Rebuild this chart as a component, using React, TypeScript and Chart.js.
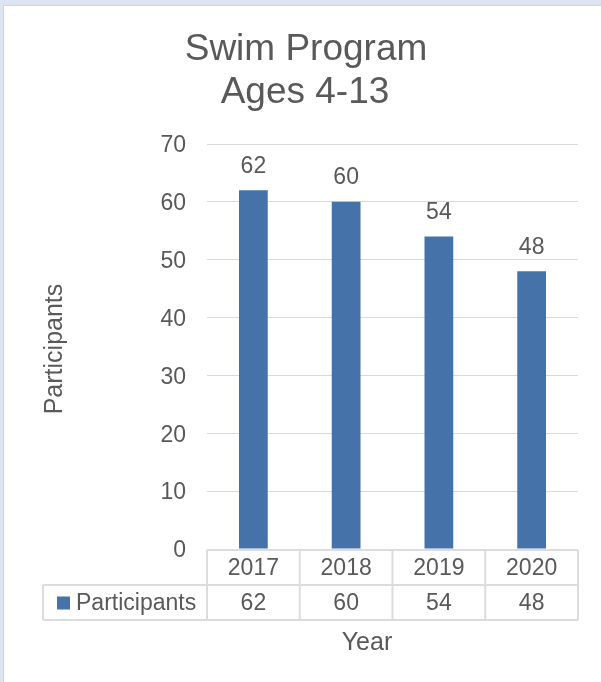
import React, { useEffect, useRef } from "react";
import { Chart, registerables } from "chart.js";

Chart.register(...registerables);

const categories = ["2017", "2018", "2019", "2020"];
const participants = [62, 60, 54, 48];
const seriesName = "Participants";
const titleLines = ["Swim Program", "Ages 4-13"];
const yAxisTitle = "Participants";
const xAxisTitle = "Year";
const yMin = 0;
const yMax = 70;
const yStep = 10;

const FONT = "'Liberation Sans', Arial, Helvetica, sans-serif";
const TEXT = "#595959";
const BAR = "#4573A9";
const GRID = "#d9d9d9";

const W = 601;
const H = 682;

const decorPlugin = {
  id: "decor",
  beforeDraw(chart: any) {
    const ctx = chart.ctx;
    ctx.save();
    ctx.fillStyle = "#dbe4f0";
    ctx.fillRect(0, 0, W, H);
    ctx.fillStyle = "#d4d4d4";
    ctx.fillRect(3, 5, W, H);
    ctx.fillStyle = "#ffffff";
    ctx.fillRect(4, 6, W, H);
    ctx.restore();
  },
  afterDraw(chart: any) {
    const ctx = chart.ctx;
    const area = chart.chartArea;
    const xs = chart.scales.x;
    const ys = chart.scales.y;
    ctx.save();
    ctx.fillStyle = TEXT;

    // Title
    ctx.font = `37px ${FONT}`;
    ctx.textAlign = "center";
    ctx.textBaseline = "alphabetic";
    ctx.fillText(titleLines[0], 306, 60);
    ctx.fillText(titleLines[1], 305, 103);

    // Y tick labels
    ctx.font = `23px ${FONT}`;
    ctx.textAlign = "right";
    ctx.textBaseline = "middle";
    ys.ticks.forEach((t: any) => {
      ctx.fillText(String(t.value), area.left - 21, ys.getPixelForValue(t.value) + 2);
    });

    // Data labels
    ctx.textAlign = "center";
    const meta = chart.getDatasetMeta(0);
    meta.data.forEach((bar: any, i: number) => {
      ctx.fillText(String(participants[i]), bar.x, bar.y - 24);
    });

    // Data table
    const n = categories.length;
    const bounds: number[] = [area.left];
    for (let i = 0; i < n - 1; i++) {
      bounds.push((xs.getPixelForValue(i) + xs.getPixelForValue(i + 1)) / 2);
    }
    bounds.push(area.right);
    const r0 = area.bottom + 1;
    const r1 = r0 + 35;
    const r2 = r1 + 35;
    const legL = 43;
    ctx.strokeStyle = "#dcdcdc";
    ctx.lineWidth = 2;
    ctx.beginPath();
    ctx.moveTo(area.left, r0);
    ctx.lineTo(area.right, r0);
    ctx.moveTo(legL, r1);
    ctx.lineTo(area.right, r1);
    ctx.moveTo(legL, r2);
    ctx.lineTo(area.right, r2);
    bounds.forEach((b) => {
      ctx.moveTo(b, r0);
      ctx.lineTo(b, r2);
    });
    ctx.moveTo(legL, r1);
    ctx.lineTo(legL, r2);
    ctx.stroke();

    ctx.fillStyle = TEXT;
    ctx.font = `23px ${FONT}`;
    ctx.textAlign = "center";
    ctx.textBaseline = "middle";
    for (let i = 0; i < n; i++) {
      const cx = xs.getPixelForValue(i);
      ctx.fillText(categories[i], cx, (r0 + r1) / 2 + 1);
      ctx.fillText(String(participants[i]), cx, (r1 + r2) / 2 + 1);
    }
    // legend key
    ctx.fillStyle = BAR;
    ctx.fillRect(57, (r1 + r2) / 2 - 6, 13, 13);
    ctx.fillStyle = TEXT;
    ctx.textAlign = "left";
    ctx.fillText(seriesName, 76, (r1 + r2) / 2 + 1);

    // Axis titles
    ctx.font = `25px ${FONT}`;
    ctx.textAlign = "center";
    ctx.textBaseline = "middle";
    ctx.fillText(xAxisTitle, 367, 643);

    ctx.translate(62, 349);
    ctx.rotate(-Math.PI / 2);
    ctx.textBaseline = "alphabetic";
    ctx.fillText(yAxisTitle, 0, 0);
    ctx.restore();
  },
};

export default function App() {
  const ref = useRef<HTMLCanvasElement>(null);
  useEffect(() => {
    document.body.style.margin = "0";
    const canvas = ref.current!;
    const chart = new Chart(canvas, {
      type: "bar",
      data: {
        labels: categories,
        datasets: [
          {
            label: seriesName,
            data: participants,
            backgroundColor: BAR,
            borderWidth: 0,
            barPercentage: 0.31,
            categoryPercentage: 1,
          },
        ],
      },
      options: {
        animation: false,
        responsive: false,
        devicePixelRatio: 1,
        layout: { padding: { left: 0, right: 23, top: 144, bottom: 133 } },
        plugins: {
          legend: { display: false },
          title: { display: false },
          tooltip: { enabled: false },
        },
        scales: {
          x: {
            type: "category",
            display: false,
            offset: true,
          },
          y: {
            min: yMin,
            max: yMax,
            border: { display: false },
            grid: { color: GRID, lineWidth: 1, drawTicks: false },
            ticks: {
              stepSize: yStep,
              display: false,
            },
            afterFit(scale: any) {
              scale.width = 207;
            },
          },
        },
      },
      plugins: [decorPlugin],
    });
    return () => chart.destroy();
  }, []);
  return (
    <div style={{ width: W, height: H, position: "relative", overflow: "hidden" }}>
      <canvas ref={ref} width={W} height={H} style={{ display: "block", width: W, height: H }} />
    </div>
  );
}
